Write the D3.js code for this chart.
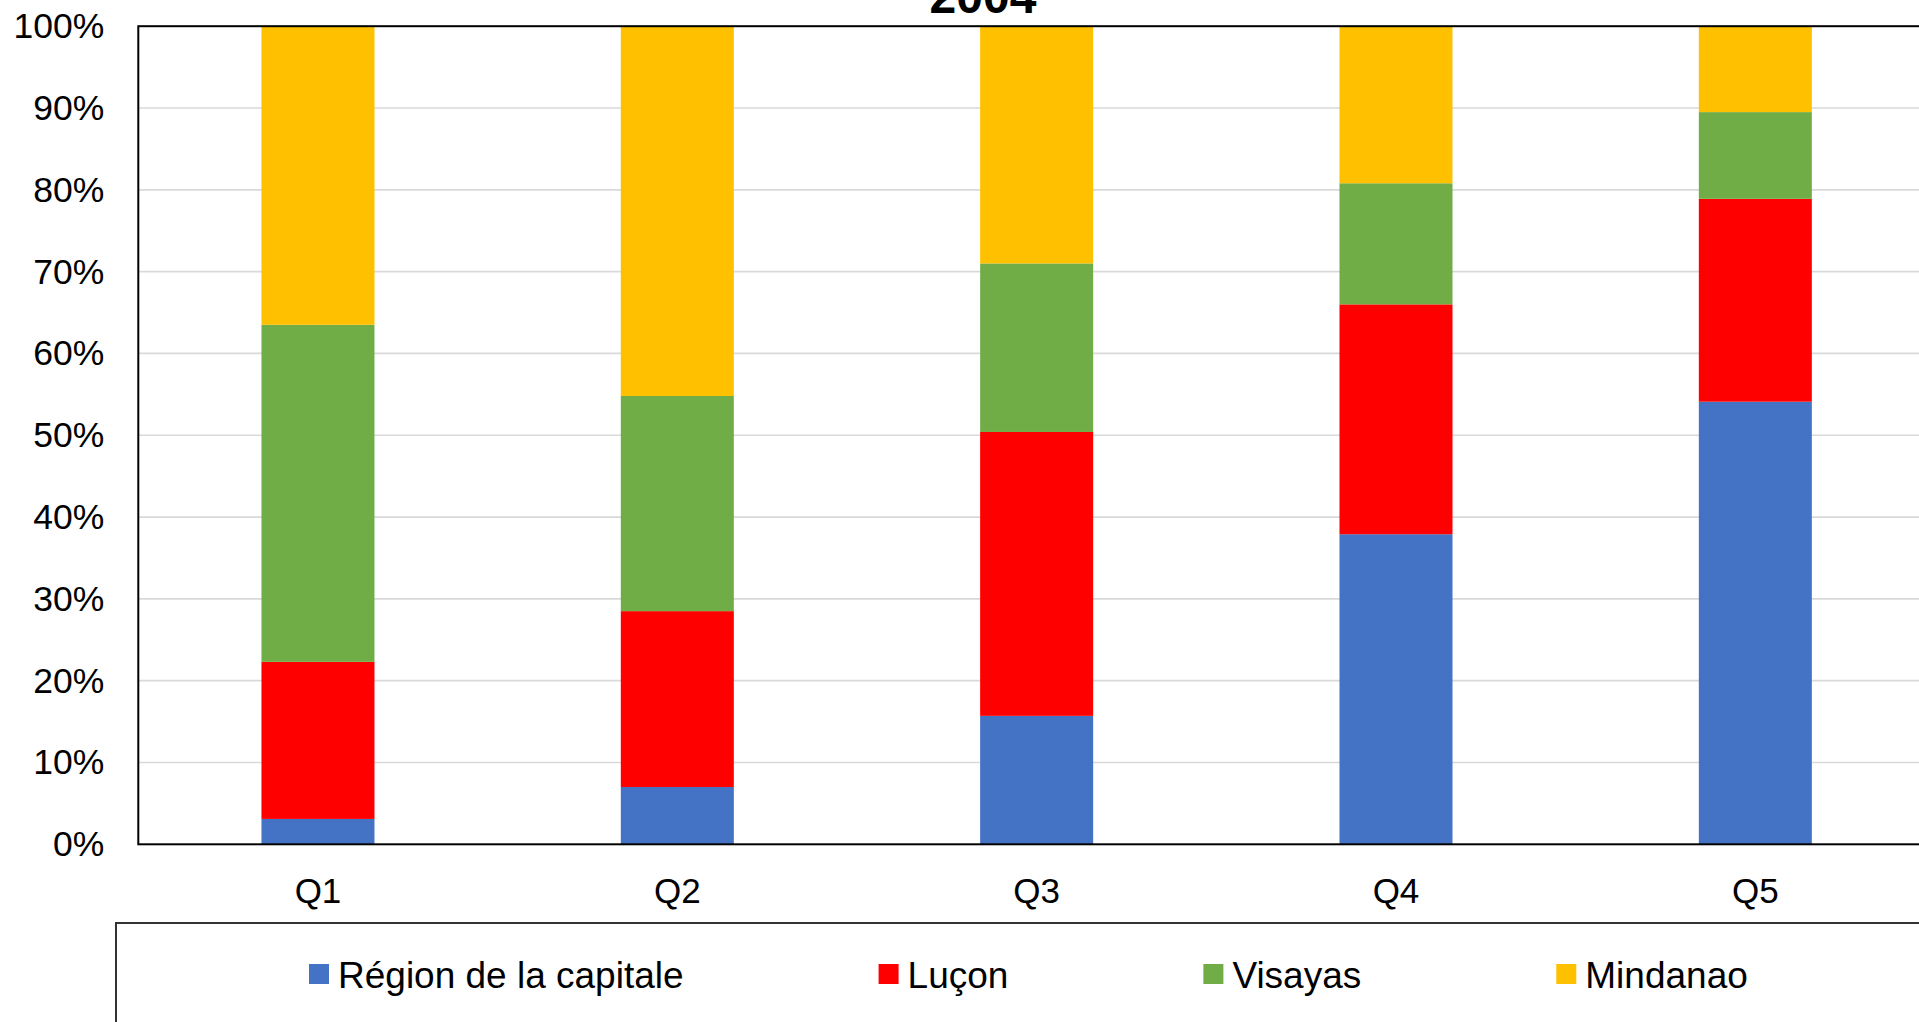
<!DOCTYPE html>
<html>
<head>
<meta charset="utf-8">
<script src="https://cdnjs.cloudflare.com/ajax/libs/d3/7.8.5/d3.min.js"></script>
<style>
  body { margin: 0; background: #fff; }
  svg { display: block; font-family: Arial, 'Liberation Sans', sans-serif; }
</style>
</head>
<body>
<div class="d3"></div>
<script>
const categories = ['Q1', 'Q2', 'Q3', 'Q4', 'Q5'];
const regions = ['Région de la capitale', 'Luçon', 'Visayas', 'Mindanao'];
const capitale = [3.1, 7.0, 15.7, 37.9, 54.1];
const lucon = [19.2, 21.5, 34.7, 28.1, 24.8];
const visayas = [41.2, 26.3, 20.6, 14.8, 10.6];
const mindanao = [36.5, 45.2, 29.0, 19.2, 10.5];
const yTicks = [0, 10, 20, 30, 40, 50, 60, 70, 80, 90, 100];
const title = '2004';

(() => {
  let width = 1919;
  let height = 1022;
  let colors = ['#4472C4', '#FF0000', '#70AD47', '#FFC000'];
  let series = [capitale, lucon, visayas, mindanao];

  let rows = categories.map((c, i) => {
    let row = { cat: c };
    regions.forEach((r, j) => { row[r] = series[j][i]; });
    return row;
  });

  let stacked = d3.stack().keys(regions)(rows);

  let left = 138.3, top = 26.2, bottom = 844.3, right = 1935;

  let svg = d3.select('.d3').append('svg')
    .attr('width', width)
    .attr('height', height);

  let x = d3.scaleBand()
    .domain(categories)
    .range([left, right])
    .paddingInner(0.6855)
    .paddingOuter(0.6855 / 2);

  let y = d3.scaleLinear().domain([0, 100]).range([bottom, top]);

  // gridlines
  svg.append('g')
    .selectAll('line')
    .data(yTicks.filter(t => t > 0 && t < 100))
    .enter()
    .append('line')
    .attr('x1', left).attr('x2', right)
    .attr('y1', d => y(d)).attr('y2', d => y(d))
    .attr('stroke', '#d9d9d9')
    .attr('stroke-width', 1.7);

  // bars
  svg.append('g')
    .selectAll('g')
    .data(stacked)
    .enter()
    .append('g')
    .attr('fill', (d, i) => colors[i])
    .selectAll('rect')
    .data(d => d)
    .enter()
    .append('rect')
    .attr('x', d => x(d.data.cat))
    .attr('width', x.bandwidth())
    .attr('y', d => y(d[1]))
    .attr('height', d => y(d[0]) - y(d[1]));

  // plot border
  svg.append('rect')
    .attr('x', left).attr('y', top)
    .attr('width', right - left).attr('height', bottom - top)
    .attr('fill', 'none')
    .attr('stroke', '#000')
    .attr('stroke-width', 2);

  // y axis
  let yAxis = svg.append('g')
    .attr('transform', `translate(${left},0)`)
    .call(d3.axisLeft(y).tickValues(yTicks).tickSize(0).tickPadding(34)
      .tickFormat(d => d + '%'));
  yAxis.select('.domain').remove();
  yAxis.selectAll('text')
    .attr('font-size', 35.5)
    .attr('font-family', "Arial, 'Liberation Sans', sans-serif")
    .attr('fill', '#000');

  // x axis
  let xAxis = svg.append('g')
    .attr('transform', `translate(0,${bottom})`)
    .call(d3.axisBottom(x).tickSize(0).tickPadding(34));
  xAxis.select('.domain').remove();
  xAxis.selectAll('text')
    .attr('font-size', 35)
    .attr('font-family', "Arial, 'Liberation Sans', sans-serif")
    .attr('fill', '#000');

  // title (cut off at the top, as in the source)
  svg.append('text')
    .attr('x', 983)
    .attr('y', 13)
    .attr('text-anchor', 'middle')
    .attr('font-size', 48)
    .attr('font-weight', 'bold')
    .text(title);

  // legend
  svg.append('rect')
    .attr('x', 116).attr('y', 923)
    .attr('width', 1900).attr('height', 200)
    .attr('fill', 'none')
    .attr('stroke', '#333')
    .attr('stroke-width', 2);

  let lx = 309;
  regions.forEach((r, i) => {
    let item = svg.append('g');
    item.append('rect')
      .attr('x', lx).attr('y', 964)
      .attr('width', 20).attr('height', 20)
      .attr('fill', colors[i]);
    let t = item.append('text')
      .attr('x', lx + 29)
      .attr('y', 987.5)
      .attr('font-size', 37)
      .attr('fill', '#000')
      .text(r);
    lx += 29 + t.node().getComputedTextLength() + 195;
  });
})();
</script>
</body>
</html>
